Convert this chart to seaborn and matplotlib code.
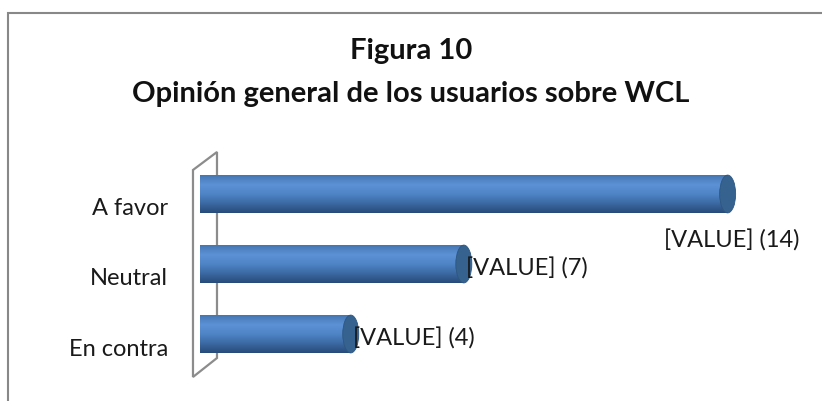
import numpy as np
import pandas as pd
import matplotlib
matplotlib.use("Agg")
import matplotlib.pyplot as plt
import seaborn as sns
from matplotlib.patches import Ellipse, Polygon, Rectangle
from matplotlib.transforms import ScaledTranslation
from matplotlib.colors import LinearSegmentedColormap

categories = ["A favor", "Neutral", "En contra"]
values = [14, 7, 4]
value_labels = [f"[VALUE] ({v})" for v in values]
title_lines = ["Figura 10", "Opinión general de los usuarios sobre WCL"]

sns.set_theme(style="white")
plt.rcParams["font.family"] = ["Lato", "DejaVu Sans"]

fig = plt.figure(figsize=(8.22, 4.01), dpi=100)
ax = fig.add_axes([0.2433, 0.0536, 0.7336, 0.5761])

df = pd.DataFrame({"cat": categories, "val": values})
sns.barplot(data=df, x="val", y="cat", orient="h", color="#4F81BD",
            width=0.54, ax=ax, zorder=3)

ax.set_xlim(0, 16)
ax.set_ylim(2.65, -0.65)

# cylinder shading
grad = np.linspace(0, 1, 64).reshape(-1, 1)
cmap = LinearSegmentedColormap.from_list(
    "cyl", ["#4676b3", "#5c93d6", "#4f84c6", "#3b69a2", "#284c7a"])
xu_per_px = 16 / (0.7336 * 822)
cap_w = 16 * xu_per_px
for p in ax.patches:
    x0, y0 = p.get_x(), p.get_y()
    w, h = p.get_width(), p.get_height()
    im = ax.imshow(grad, cmap=cmap, aspect="auto",
                   extent=[x0, x0 + w, y0 + h, y0], zorder=3.1,
                   interpolation="bilinear")
    im.set_clip_path(p)
    p.set_edgecolor("none")
    ax.add_patch(Ellipse((x0, y0 + h / 2), cap_w, h, facecolor="#4a7cba",
                         edgecolor="none", zorder=2.9))
    ax.add_patch(Ellipse((x0 + w, y0 + h / 2), cap_w, h, facecolor="#36628f",
                         edgecolor="#2e5680", lw=0.6, zorder=3.3))

ax.set_xlim(0, 16)
ax.set_ylim(2.65, -0.65)

# back wall
wall = Polygon([(-0.186, -0.343), (0.451, -0.6), (0.451, 2.343), (-0.186, 2.614)],
               closed=True, facecolor="none", edgecolor="#8c8c8c", lw=1.6,
               zorder=1, clip_on=False)
ax.add_patch(wall)

# value labels
for i, (v, lab) in enumerate(zip(values, value_labels)):
    if i == 0:
        ax.text(v + 0.1, i + 0.67, lab, ha="center", va="center",
                fontsize=17, color="#1a1a1a", zorder=5, clip_on=False)
    else:
        ax.text(v + 0.05, i + 0.06, lab, ha="left", va="center",
                fontsize=17, color="#1a1a1a", zorder=5, clip_on=False)

ax.set_xlabel("")
ax.set_ylabel("")
ax.set_xticks([])
ax.tick_params(axis="y", length=0, pad=23, labelsize=17, labelcolor="#1a1a1a")
for t in ax.get_yticklabels():
    t.set_transform(t.get_transform() + ScaledTranslation(0, -0.13, fig.dpi_scale_trans))
for s in ax.spines.values():
    s.set_visible(False)

# titles
fig.text(0.5, 1 - 51 / 401, title_lines[0], ha="center", va="center",
         fontsize=21, fontweight="bold", color="#111111")
fig.text(0.5, 1 - 94 / 401, title_lines[1], ha="center", va="center",
         fontsize=21, fontweight="bold", color="#111111")

# chart border
fig.patches.append(Rectangle((8 / 822, -0.1), 1.2, 1 - 13 / 401 + 0.1,
                             transform=fig.transFigure, facecolor="none",
                             edgecolor="#888888", lw=1.5))

fig.savefig("out.png", dpi=100)
